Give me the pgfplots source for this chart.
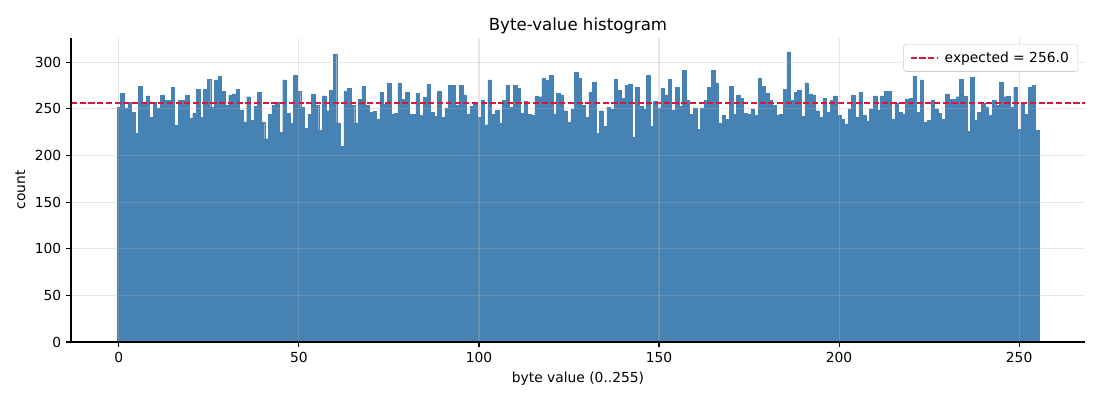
\documentclass[border=0pt]{standalone}
\usepackage{fontspec}
\setmainfont{DejaVu Sans}
\usepackage{pgfplots}
\usepackage{pgfplotstable}
\pgfplotsset{compat=1.18}
\definecolor{steelblue}{RGB}{70,130,180}
\definecolor{expred}{RGB}{220,20,60}
\definecolor{gridgray}{RGB}{176,176,176}
\definecolor{legedge}{RGB}{204,204,204}
\pgfplotstableread[row sep=\\]{
i c\\
0 252\\ 1 267\\ 2 251\\ 3 257\\ 4 246\\ 5 224\\ 6 274\\ 7 257\\ 8 264\\ 9 241\\
10 257\\ 11 251\\ 12 265\\ 13 259\\ 14 259\\ 15 273\\ 16 232\\ 17 259\\ 18 259\\ 19 265\\
20 240\\ 21 245\\ 22 271\\ 23 241\\ 24 271\\ 25 282\\ 26 252\\ 27 281\\ 28 285\\ 29 269\\
30 254\\ 31 265\\ 32 266\\ 33 271\\ 34 249\\ 35 236\\ 36 263\\ 37 238\\ 38 253\\ 39 268\\
40 236\\ 41 218\\ 42 244\\ 43 254\\ 44 257\\ 45 225\\ 46 281\\ 47 245\\ 48 235\\ 49 286\\
50 269\\ 51 252\\ 52 229\\ 53 244\\ 54 266\\ 55 254\\ 56 227\\ 57 264\\ 58 248\\ 59 270\\
60 309\\ 61 235\\ 62 210\\ 63 269\\ 64 272\\ 65 254\\ 66 235\\ 67 260\\ 68 274\\ 69 254\\
70 246\\ 71 247\\ 72 239\\ 73 268\\ 74 255\\ 75 278\\ 76 244\\ 77 245\\ 78 278\\ 79 260\\
80 268\\ 81 244\\ 82 244\\ 83 267\\ 84 243\\ 85 262\\ 86 276\\ 87 246\\ 88 242\\ 89 269\\
90 241\\ 91 251\\ 92 275\\ 93 275\\ 94 254\\ 95 275\\ 96 265\\ 97 244\\ 98 253\\ 99 255\\
100 241\\ 101 259\\ 102 233\\ 103 281\\ 104 244\\ 105 249\\ 106 235\\ 107 259\\ 108 275\\ 109 252\\
110 275\\ 111 272\\ 112 245\\ 113 258\\ 114 244\\ 115 243\\ 116 264\\ 117 263\\ 118 283\\ 119 281\\
120 286\\ 121 244\\ 122 267\\ 123 265\\ 124 248\\ 125 236\\ 126 250\\ 127 289\\ 128 283\\ 129 254\\
130 241\\ 131 268\\ 132 279\\ 133 224\\ 134 248\\ 135 231\\ 136 252\\ 137 250\\ 138 282\\ 139 270\\
140 261\\ 141 275\\ 142 276\\ 143 220\\ 144 273\\ 145 253\\ 146 250\\ 147 286\\ 148 231\\ 149 258\\
150 251\\ 151 272\\ 152 265\\ 153 282\\ 154 249\\ 155 273\\ 156 253\\ 157 291\\ 158 259\\ 159 244\\
160 251\\ 161 228\\ 162 251\\ 163 259\\ 164 273\\ 165 291\\ 166 278\\ 167 235\\ 168 243\\ 169 239\\
170 274\\ 171 244\\ 172 265\\ 173 261\\ 174 245\\ 175 244\\ 176 250\\ 177 243\\ 178 283\\ 179 274\\
180 267\\ 181 259\\ 182 254\\ 183 243\\ 184 244\\ 185 271\\ 186 311\\ 187 259\\ 188 268\\ 189 270\\
190 242\\ 191 278\\ 192 266\\ 193 265\\ 194 248\\ 195 241\\ 196 261\\ 197 246\\ 198 259\\ 199 264\\
200 243\\ 201 239\\ 202 234\\ 203 250\\ 204 265\\ 205 241\\ 206 268\\ 207 243\\ 208 237\\ 209 250\\
210 264\\ 211 249\\ 212 264\\ 213 269\\ 214 269\\ 215 239\\ 216 256\\ 217 246\\ 218 244\\ 219 260\\
220 261\\ 221 285\\ 222 246\\ 223 281\\ 224 236\\ 225 238\\ 226 259\\ 227 250\\ 228 245\\ 229 239\\
230 266\\ 231 260\\ 232 260\\ 233 263\\ 234 282\\ 235 264\\ 236 226\\ 237 284\\ 238 238\\ 239 246\\
240 256\\ 241 252\\ 242 243\\ 243 259\\ 244 254\\ 245 279\\ 246 263\\ 247 264\\ 248 252\\ 249 273\\
250 228\\ 251 257\\ 252 244\\ 253 273\\ 254 275\\ 255 227\\ 256 227\\
}\bytecounts
\begin{document}
\begin{tikzpicture}
\path[use as bounding box] (-51.12bp,-41.76bp) rectangle (740.88bp,246.24bp);
\begin{axis}[
  at={(0,0)}, anchor=south west,
  scale only axis, width=730.08bp, height=218.88bp,
  xmin=-13.3, xmax=268.3, ymin=0, ymax=326,
  enlargelimits=false,
  axis x line*=bottom, axis y line*=left,
  x axis line style={-, line width=0.8pt},
  y axis line style={-, line width=0.8pt},
  xtick={0,50,...,250}, ytick={0,50,...,300},
  tick align=outside, major tick length=3.5pt,
  major tick style={line width=0.8pt, black},
  /pgf/number format/assume math mode=true,
  ticklabel style={font=\fontsize{10}{12}\selectfont},
  grid=major,
  major grid style={line width=0.8pt, gridgray, opacity=0.3},
  axis on top,
  title={Byte-value histogram},
  title style={font=\fontsize{12}{14.4}\selectfont, anchor=base, yshift=-0.5pt},
  xlabel={byte value (0..255)},
  ylabel={count},
  label style={font=\fontsize{10}{12}\selectfont},
  legend style={at={(1,1)}, anchor=north east, xshift=-5pt, yshift=-4.3pt,
    draw=legedge, rounded corners=2pt, fill=white, fill opacity=0.8, draw opacity=1, text opacity=1,
    font=\fontsize{10}{12}\selectfont, inner xsep=4.5pt, inner ysep=3.3pt, column sep=2pt},
  legend cell align=left,
  legend image code/.code={\draw[#1] (0pt,0pt) -- (20pt,0pt);},
]
\addplot[ybar interval, fill=steelblue, draw=steelblue, line width=0.3pt, forget plot]
  table[x expr=\thisrow{i}-0.5, y=c] {\bytecounts};
\addplot[expred, line width=1.2pt, dash pattern=on 4.4pt off 1.9pt, mark=none]
  coordinates {(-13.3,256) (268.3,256)};
\addlegendentry{expected = 256.0}
\end{axis}
\end{tikzpicture}
\end{document}
